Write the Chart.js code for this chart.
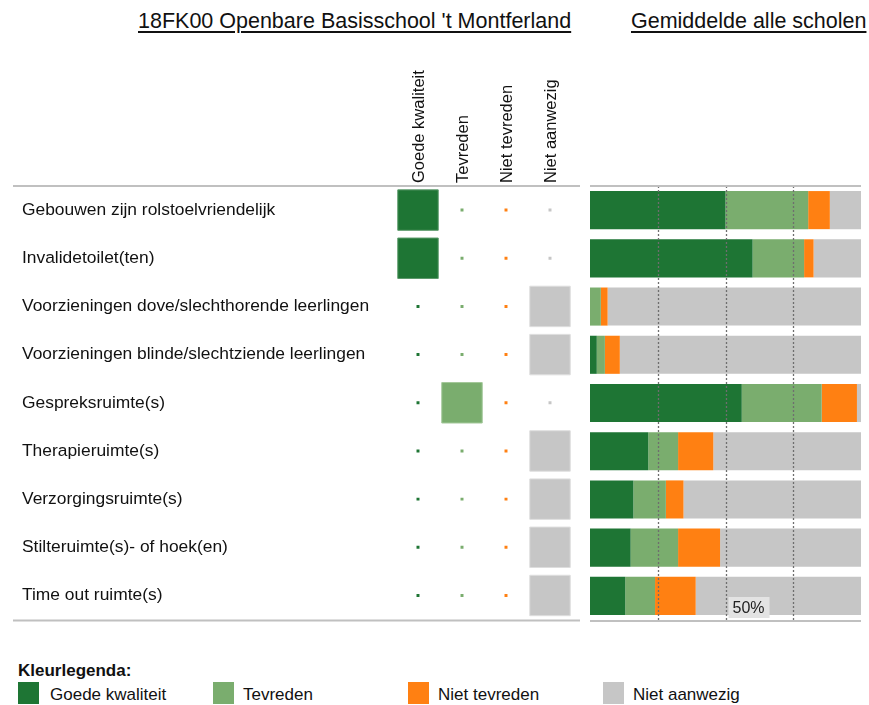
<!DOCTYPE html>
<html><head><meta charset="utf-8">
<script src="https://cdn.jsdelivr.net/npm/chart.js@4"></script>
<style>
body{margin:0;background:#fff;width:869px;height:705px;overflow:hidden;position:relative;font-family:'Liberation Sans',Arial,sans-serif;color:#111}
.t{position:absolute;font-size:21.5px;text-decoration:underline;text-underline-offset:3px;white-space:nowrap;line-height:1}
.box{position:absolute}
.lg{position:absolute;font-size:17px;line-height:1;white-space:nowrap}
.sw{position:absolute;width:21px;height:22px}
</style></head>
<body>
<div class="t" style="left:138px;top:11px">18FK00 Openbare Basisschool 't Montferland</div>
<div class="t" style="left:631px;top:11px">Gemiddelde alle scholen</div>
<div class="box" style="left:13px;top:50px;width:567px;height:583px"><canvas id="left"></canvas></div>
<div class="box" style="left:585px;top:176px;width:281px;height:454px"><canvas id="right"></canvas></div>
<div class="lg" style="left:18px;top:662px;font-weight:bold">Kleurlegenda:</div>
<div id="legend"></div>
<script>
const rows = ['Gebouwen zijn rolstoelvriendelijk','Invalidetoilet(ten)','Voorzieningen dove/slechthorende leerlingen','Voorzieningen blinde/slechtziende leerlingen','Gespreksruimte(s)','Therapieruimte(s)','Verzorgingsruimte(s)','Stilteruimte(s)- of hoek(en)','Time out ruimte(s)'];
const categories = ['Goede kwaliteit','Tevreden','Niet tevreden','Niet aanwezig'];
const legendLabels = ['Goede kwaliteit','Tevreden','Niet tevreden','Niet aanwezig'];
// School answers (1 = chosen)
const schoolGoede = [1,1,0,0,0,0,0,0,0];
const schoolTevreden = [0,0,0,0,1,0,0,0,0];
const schoolNietTevreden = [0,0,0,0,0,0,0,0,0];
const schoolNietAanwezig = [0,0,1,1,0,1,1,1,1];
// Average of all schools (%)
const avgGoede = [50,60,0,2.5,56,21.5,16,15,13];
const avgTevreden = [30.5,19,4,3,29.5,11,12,17.5,11];
const avgNietTevreden = [8,3.5,2.5,5.5,13,13,6.5,15.5,15];
const avgNietAanwezig = [11.5,17.5,93.5,89,1.5,54.5,65.5,52,61];
const xTicks = [25,50,75];
const markLabel = '50%';

const colors = ['#1e7534','#7aad6e','#ff8012','#c6c6c6'];
const edge = ['#5c9a6b','#a3c89a','#ffa85a','#dedede'];
const FONT = "'Liberation Sans', Arial, sans-serif";

const frameLines = {
  id:'frameLines',
  afterDraw(chart, args, opts){
    const {ctx, chartArea} = chart;
    ctx.save();
    ctx.strokeStyle = '#c0c0c0'; ctx.lineWidth = 2;
    const x0 = opts.x0 !== undefined ? opts.x0 : chartArea.left;
    const x1 = opts.x1 !== undefined ? opts.x1 : chartArea.right;
    [chartArea.top, chartArea.bottom+1].forEach(y=>{ctx.beginPath();ctx.moveTo(x0,y);ctx.lineTo(x1,y);ctx.stroke();});
    ctx.restore();
  }
};

const schoolVals = [schoolGoede, schoolTevreden, schoolNietTevreden, schoolNietAanwezig];
new Chart(document.getElementById('left'), {
  type:'scatter',
  data:{datasets: categories.map((c,i)=>({
    label:c,
    data: rows.map((r,j)=>({x:c, y:r, v:schoolVals[i][j]})),
    pointStyle:'rect',
    pointRadius: ctx => (ctx.raw && ctx.raw.v) ? 28.6 : 2.1,
    pointHoverRadius: ctx => (ctx.raw && ctx.raw.v) ? 28.6 : 2.1,
    backgroundColor: colors[i],
    borderColor: ctx => (ctx.raw && ctx.raw.v) ? edge[i] : colors[i],
    borderWidth: ctx => (ctx.raw && ctx.raw.v) ? 1 : 0
  }))},
  options:{
    responsive:true, maintainAspectRatio:false, animation:false,
    layout:{autoPadding:false, padding:{left:9,right:8,top:0,bottom:10}},
    plugins:{legend:{display:false}, tooltip:{enabled:false}, frameLines:{x0:0, x1:567}},
    scales:{
      x:{type:'category', labels:categories, position:'top', offset:true,
         grid:{display:false, drawTicks:false}, border:{display:false},
         ticks:{minRotation:90, maxRotation:90, padding:3, labelOffset:21, color:'#111', font:{family:FONT, size:16.5}},
         afterFit(s){ s.height = 136; }},
      y:{type:'category', labels:rows, offset:true,
         grid:{display:false, drawTicks:false}, border:{display:false},
         ticks:{crossAlign:'far', color:'#111', font:{family:FONT, size:17.4}},
         afterFit(s){ s.width = 374; }}
    }
  },
  plugins:[frameLines]
});

const gridOnTop = {
  id:'gridOnTop',
  afterDatasetsDraw(chart){
    const {ctx, chartArea, scales} = chart;
    ctx.save();
    ctx.strokeStyle = '#6e6e6e'; ctx.lineWidth = 1.3; ctx.setLineDash([2,2]);
    xTicks.forEach(v=>{
      const x = Math.round(scales.x.getPixelForValue(v)) + 0.5;
      ctx.beginPath(); ctx.moveTo(x, chartArea.top); ctx.lineTo(x, chartArea.bottom); ctx.stroke();
    });
    ctx.restore();
  }
};

const markPlugin = {
  id:'markPlugin',
  afterDraw(chart){
    const {ctx, chartArea, scales} = chart;
    const x = scales.x.getPixelForValue(50) + 3;
    ctx.save();
    ctx.font = "16px " + FONT;
    const w = ctx.measureText(markLabel).width + 9;
    const h = 21;
    ctx.fillStyle = '#e3e3e3';
    ctx.fillRect(x, chartArea.bottom - 2 - h, w, h);
    ctx.fillStyle = '#222'; ctx.textBaseline='middle'; ctx.textAlign='left';
    ctx.fillText(markLabel, x+4, chartArea.bottom - 2 - h/2 + 1);
    ctx.restore();
  }
};

const avgVals = [avgGoede, avgTevreden, avgNietTevreden, avgNietAanwezig];
new Chart(document.getElementById('right'), {
  type:'bar',
  data:{labels:rows, datasets: categories.map((c,i)=>({
    label:c, data:avgVals[i], backgroundColor:colors[i], borderWidth:0,
    barPercentage:0.79, categoryPercentage:1
  }))},
  options:{
    indexAxis:'y', responsive:true, maintainAspectRatio:false, animation:false,
    layout:{padding:{left:5,right:5,top:10,bottom:10}},
    plugins:{legend:{display:false}, tooltip:{enabled:false}, frameLines:{}},
    scales:{
      x:{stacked:true, min:0, max:100,
         ticks:{display:false, stepSize:25},
         grid:{display:false, drawTicks:false},
         border:{display:false},
         afterFit(s){ s.height = 0; }},
      y:{stacked:true, display:false}
    }
  },
  plugins:[gridOnTop, frameLines, markPlugin]
});

// legend (HTML)
const lg = document.getElementById('legend');
legendLabels.forEach((l,i)=>{
  const sw = document.createElement('div'); sw.className='sw';
  sw.style.left = (18 + i*195) + 'px'; sw.style.top = '682px'; sw.style.background = colors[i];
  lg.appendChild(sw);
  const t = document.createElement('div'); t.className='lg'; t.textContent = l;
  t.style.left = (50 + i*195 - (i ? 2 : 0)) + 'px'; t.style.top = '686px';
  lg.appendChild(t);
});
</script>
</body></html>
